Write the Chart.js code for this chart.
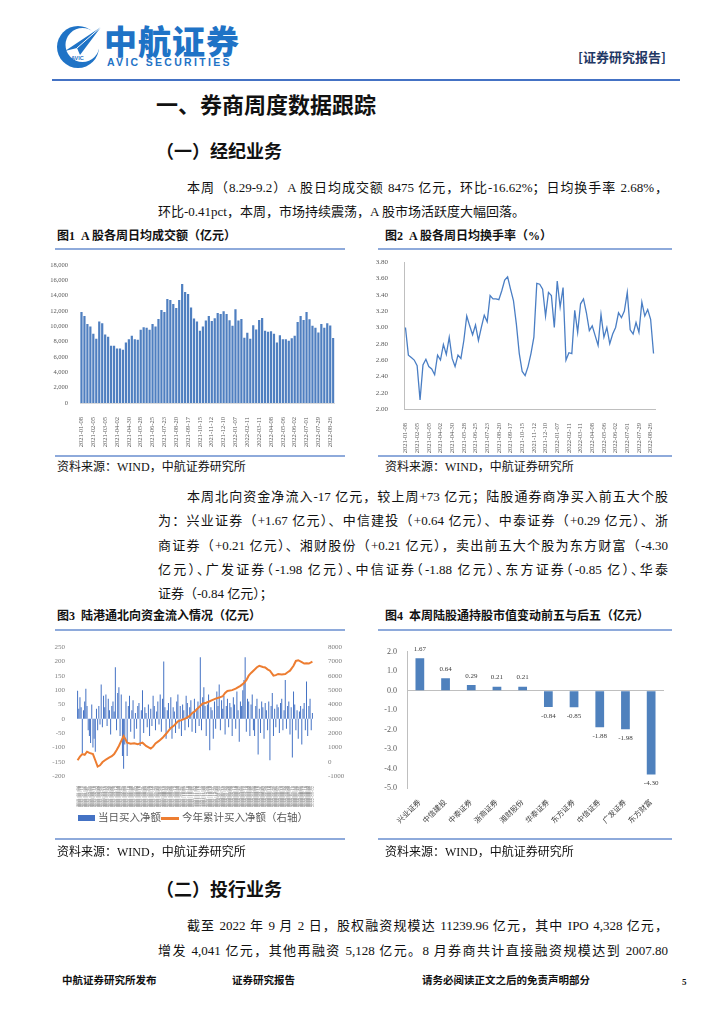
<!DOCTYPE html>
<html>
<head>
<meta charset="utf-8">
<script src="https://cdn.jsdelivr.net/npm/chart.js@4.4.1/dist/chart.umd.min.js"></script>
<style>
  html, body { margin: 0; padding: 0; background: #fff; }
  #page { position: relative; width: 724px; height: 1024px; overflow: hidden; background: #fff;
    font-family: "Liberation Serif", "Noto Sans CJK SC", serif; color: #111; }
  .abs { position: absolute; white-space: nowrap; }
  .ln { position: absolute; left: 158px; width: 510px; height: 20px; line-height: 20px; font-size: 13px;
    white-space: nowrap; text-align: justify; text-align-last: justify; }
  .ln.first { left: 187px; width: 481px; }
  .ln.last { text-align-last: left; }
  .ln.tight { font-feature-settings: "halt"; }
  .h1 { font-family: "Noto Sans CJK SC"; font-weight: 700; font-size: 22px; line-height: 26px; }
  .h2 { font-family: "Noto Sans CJK SC"; font-weight: 700; font-size: 18px; line-height: 22px; }
  .figt { font-weight: 700; font-size: 12px; line-height: 16px; }
  .src { font-size: 12px; line-height: 16px; }
  .rule { position: absolute; height: 1.5px; background: #8eaadb; }
  canvas { position: absolute; }
  .foot { font-weight: 700; font-size: 10.5px; line-height: 14px; font-family: "Noto Sans CJK SC"; }
</style>
</head>
<body>
<div id="page">
  <!-- header -->
  <svg class="abs" style="left:56px;top:22px" width="48" height="48" viewBox="0 0 48 48">
    <circle cx="22" cy="25" r="21" fill="#1f73c6"/>
    <circle cx="26.5" cy="23" r="17" fill="#fff"/>
    <path d="M9 29 L45 5 L24 33 L21 26 Z" fill="#1f73c6"/>
    <path d="M21 26 L45 5" stroke="#fff" stroke-width="1"/>
    <text x="15" y="38" font-size="5.5" font-family="Liberation Sans" font-weight="bold" fill="#1f73c6">AVIC</text>
  </svg>
  <div class="abs" style="left:104px;top:20px;font-family:'Noto Sans CJK SC';font-weight:900;font-size:33px;line-height:40px;color:#1f73c6;letter-spacing:1px">中航证券</div>
  <div class="abs" style="left:107px;top:56px;font-family:'Liberation Sans';font-weight:700;font-size:10.5px;line-height:12px;color:#1f73c6;letter-spacing:2.3px">AVIC SECURITIES</div>
  <div class="abs" style="left:578px;top:49px;font-family:'Noto Sans CJK SC';font-weight:700;font-size:13px;line-height:16px;color:#1f3864">[证券研究报告]</div>
  <div class="abs" style="left:52px;top:79px;width:628px;height:2px;background:#4472c4"></div>

  <div class="abs h1" style="left:156px;top:90px">一、券商周度数据跟踪</div>
  <div class="abs h2" style="left:156px;top:139px">（一）经纪业务</div>

  <div class="ln first" style="top:178px">本周（8.29-9.2）A 股日均成交额 8475 亿元，环比-16.62%；日均换手率 2.68%，</div>
  <div class="ln last" style="top:202px">环比-0.41pct，本周，市场持续震荡，A 股市场活跃度大幅回落。</div>

  <!-- figure 1 / 2 -->
  <div class="abs figt" style="left:57px;top:228px">图1&nbsp; A 股各周日均成交额（亿元）</div>
  <div class="abs figt" style="left:385px;top:228px">图2&nbsp; A 股各周日均换手率（%）</div>
  <div class="rule" style="left:55px;top:248px;width:290px"></div>
  <div class="rule" style="left:378px;top:248px;width:294px"></div>
  <canvas id="c1" width="302" height="195" style="left:45px;top:255px"></canvas>
  <canvas id="c2" width="300" height="205" style="left:368px;top:250px"></canvas>
  <div class="rule" style="left:55px;top:455px;width:290px"></div>
  <div class="rule" style="left:378px;top:455px;width:294px"></div>
  <div class="abs src" style="left:57px;top:459px">资料来源：WIND，中航证券研究所</div>
  <div class="abs src" style="left:385px;top:459px">资料来源：WIND，中航证券研究所</div>

  <div class="ln first" style="top:487px">本周北向资金净流入-17 亿元，较上周+73 亿元；陆股通券商净买入前五大个股</div>
  <div class="ln" style="top:511px">为：兴业证券（+1.67 亿元）、中信建投（+0.64 亿元）、中泰证券（+0.29 亿元）、浙</div>
  <div class="ln" style="top:536px">商证券（+0.21 亿元）、湘财股份（+0.21 亿元），卖出前五大个股为东方财富（-4.30</div>
  <div class="ln tight" style="top:560px">亿元）、广发证券（-1.98 亿元）、中信证券（-1.88 亿元）、东方证券（-0.85 亿）、华泰</div>
  <div class="ln last" style="top:584px">证券（-0.84 亿元）；</div>

  <!-- figure 3 / 4 -->
  <div class="abs figt" style="left:57px;top:608px">图3&nbsp; 陆港通北向资金流入情况（亿元）</div>
  <div class="abs figt" style="left:385px;top:608px">图4&nbsp; 本周陆股通持股市值变动前五与后五（亿元）</div>
  <div class="rule" style="left:55px;top:629px;width:290px"></div>
  <div class="rule" style="left:378px;top:629px;width:294px"></div>
  <canvas id="c3" width="305" height="175" style="left:45px;top:636px"></canvas>
  <canvas id="c4" width="292" height="200" style="left:375px;top:637px"></canvas>
  <div class="abs" style="left:78px;top:815px;width:17px;height:6px;background:#4472c4"></div>
  <div class="abs" style="left:98px;top:810px;font-size:10.5px;line-height:16px;color:#595959">当日买入净额</div>
  <div class="abs" style="left:161px;top:817px;width:18px;height:2.5px;background:#ed7d31"></div>
  <div class="abs" style="left:182px;top:810px;font-size:10.5px;line-height:16px;color:#595959">今年累计买入净额（右轴）</div>
  <div class="rule" style="left:55px;top:838px;width:290px"></div>
  <div class="rule" style="left:378px;top:838px;width:294px"></div>
  <div class="abs src" style="left:57px;top:844px">资料来源：WIND，中航证券研究所</div>
  <div class="abs src" style="left:385px;top:844px">资料来源：WIND，中航证券研究所</div>

  <div class="abs h2" style="left:156px;top:877px">（二）投行业务</div>
  <div class="ln first" style="top:916px">截至 2022 年 9 月 2 日，股权融资规模达 11239.96 亿元，其中 IPO 4,328 亿元，</div>
  <div class="ln" style="top:941px">增发 4,041 亿元，其他再融资 5,128 亿元。8 月券商共计直接融资规模达到 2007.80</div>

  <!-- footer -->
  <div class="abs foot" style="left:62px;top:973px">中航证券研究所发布</div>
  <div class="abs foot" style="left:232px;top:973px">证券研究报告</div>
  <div class="abs foot" style="left:422px;top:973px">请务必阅读正文之后的免责声明部分</div>
  <div class="abs" style="left:682px;top:976px;font-weight:700;font-size:9px;line-height:12px">5</div>
</div>

<script>
// ---- weekly categories (fig 1 & 2) ----
const weekLabels = [
  '2021-01-08','2021-01-15','2021-01-22','2021-01-29','2021-02-05','2021-02-10','2021-02-19','2021-02-26',
  '2021-03-05','2021-03-12','2021-03-19','2021-03-26','2021-04-02','2021-04-09','2021-04-16','2021-04-23',
  '2021-04-30','2021-05-07','2021-05-14','2021-05-21','2021-05-28','2021-06-04','2021-06-11','2021-06-18',
  '2021-06-25','2021-07-02','2021-07-09','2021-07-16','2021-07-23','2021-07-30','2021-08-06','2021-08-13',
  '2021-08-20','2021-08-27','2021-09-03','2021-09-10','2021-09-17','2021-09-24','2021-09-30','2021-10-08',
  '2021-10-15','2021-10-22','2021-10-29','2021-11-05','2021-11-12','2021-11-19','2021-11-26','2021-12-03',
  '2021-12-10','2021-12-17','2021-12-24','2021-12-31','2022-01-07','2022-01-14','2022-01-21','2022-01-28',
  '2022-02-11','2022-02-18','2022-02-25','2022-03-04','2022-03-11','2022-03-18','2022-03-25','2022-04-01',
  '2022-04-08','2022-04-15','2022-04-22','2022-04-29','2022-05-06','2022-05-13','2022-05-20','2022-05-27',
  '2022-06-02','2022-06-10','2022-06-17','2022-06-24','2022-07-01','2022-07-08','2022-07-15','2022-07-22',
  '2022-07-29','2022-08-05','2022-08-12','2022-08-19','2022-08-26','2022-09-02'
];
// fig 1: weekly avg turnover (亿元)
const weeklyAmount = [
  11880,11360,10320,9970,9020,8370,10620,10410,8930,8630,
  7460,7460,7110,7110,6940,7890,8330,8760,8330,8240,
  9540,9890,9800,9540,10320,9970,10970,12140,11880,13570,
  13440,12920,12400,13440,15520,14480,14220,12450,11010,10620,
  9410,9970,10750,11360,10710,11060,11750,11620,11970,11620,
  10800,10060,12230,10750,10970,8500,9150,8370,10150,9580,
  10840,11100,9410,9280,9370,9020,7890,8850,8330,8330,
  8110,8460,8760,10580,11360,10840,11880,10930,10060,9800,
  9190,10320,9800,10410,10100,8475
];
// fig 2: weekly avg turnover rate (%)
const weeklyRate = [
  3.00,2.66,2.63,2.60,2.53,2.11,2.54,2.61,2.52,2.49,
  2.42,2.66,2.60,2.79,2.67,2.88,2.62,2.52,2.66,2.62,
  2.84,3.14,3.02,2.91,3.03,2.84,3.00,3.15,3.07,3.39,
  3.35,3.35,3.34,3.45,3.58,3.62,3.47,3.33,3.04,2.68,
  2.46,2.41,2.52,2.68,2.88,3.54,3.53,3.47,3.14,3.43,
  3.39,3.00,3.57,3.25,3.49,2.60,2.69,2.68,3.21,2.94,
  3.29,3.35,3.18,2.96,3.02,2.90,2.78,3.16,2.88,3.00,
  2.80,2.92,3.00,3.18,3.12,3.20,3.43,2.97,2.92,3.06,
  2.94,3.31,3.14,3.22,3.10,2.68
];
const amountTicks = [0, 18000, 2000];
const rateTicks = [2.0, 3.8, 0.2];

// ---- fig 3: northbound flows ----
const flowStart = '2021-01-04';
const flowEnd = '2022-09-02';
const dailyFlow = [
  98,35,75,40,-120,30,60,105,45,-40,
  -60,-85,50,-100,-70,-115,35,-40,45,-20,
  120,-30,80,40,85,-25,70,30,-55,45,
  60,25,180,-40,90,110,-60,85,-130,-175,
  -90,60,-130,45,80,-45,30,65,-70,20,
  -35,45,55,-95,30,100,-50,40,20,-30,
  50,-60,35,-25,80,45,-40,25,60,-20,
  85,-45,70,200,40,-70,30,55,-35,75,
  -70,40,25,-50,60,85,-35,45,-60,50,
  30,-40,80,55,-30,40,65,-45,25,70,
  -50,35,60,-25,215,-40,75,110,45,-60,
  50,85,-110,40,30,-70,60,-35,95,45,
  120,-40,65,35,80,-55,45,70,-30,55,
  40,-60,75,50,-35,95,30,-80,60,45,
  100,135,215,-45,70,60,-60,50,85,-40,
  -60,45,70,-125,35,-50,60,40,-70,55,
  30,-40,60,-145,45,90,-60,35,-30,50,
  40,-50,55,70,-40,30,135,-35,45,60,
  -55,40,-135,95,50,-40,30,-70,25,45,
  -90,35,55,-40,130,-60,45,70,-40,20
];
const cumIdx = [0,2,4,6,8,10,13,15,17,19,21,24,27,29,31,33,35,37,39,41,
  42,45,48,51,55,58,62,64,66,69,72,75,79,82,85,88,92,95,97,99,
  101,104,106,109,111,114,117,120,123,125,127,131,134,138,141,143,145,147,149,152,
  154,157,159,161,163,166,168,170,173,176,178,180,183,185,187,190,192,194,196,199];
const cumFlow = [100,350,530,480,700,620,530,100,-340,-250,-40,150,300,380,530,800,1100,1450,1790,1500,
  1330,1250,1280,1220,1330,1100,920,1050,1280,1450,1670,1950,2360,2550,2820,2900,3040,3200,3390,3500,
  3660,3900,4070,4120,4190,4300,4410,4480,4570,4800,4940,5000,5100,5300,5490,5700,6010,6200,6360,6600,
  6700,6620,6580,6450,6360,6010,6050,6130,6100,6130,6250,6360,6700,7040,7090,6950,6860,6880,6860,7000];
const flowTicksLeft = [-200, 250, 50];
const flowTicksRight = [-1000, 8000, 1000];

// ---- fig 4: holding change ----
const stockNames = ['兴业证券','中信建投','中泰证券','浙商证券','湘财股份','华泰证券','东方证券','中信证券','广发证券','东方财富'];
const holdChange = [1.67, 0.64, 0.29, 0.21, 0.21, -0.84, -0.85, -1.88, -1.98, -4.30];
const holdTicks = [-5, 2, 1];

const FONT = '"Liberation Serif", "Noto Sans CJK SC", serif';
Chart.defaults.font.family = FONT;
Chart.defaults.animation = false;

function tradingDays(a, b) {
  const out = [];
  const d = new Date(a + 'T00:00:00Z');
  const e = new Date(b + 'T00:00:00Z');
  while (d <= e) {
    const w = d.getUTCDay();
    if (w > 0 && w < 6) out.push(d.toISOString().slice(0, 10));
    d.setUTCDate(d.getUTCDate() + 1);
  }
  return out;
}
const allDays = tradingDays(flowStart, flowEnd);
const flowLabels = dailyFlow.map((_, i) => allDays[Math.round(i * (allDays.length - 1) / (dailyFlow.length - 1))]);

const noPlugins = { legend: { display: false }, tooltip: { enabled: false } };
const dateTicks = (size) => ({
  autoSkip: false, minRotation: 90, maxRotation: 90, padding: 6,
  font: { size }, color: '#595959',
  callback: (v, i) => (i % 4 === 0 ? weekLabels[i] : '')
});

// Fig 1
new Chart(document.getElementById('c1'), {
  type: 'bar',
  data: { labels: weekLabels, datasets: [{ data: weeklyAmount, backgroundColor: '#4f7fc0', barPercentage: 0.75, categoryPercentage: 1 }] },
  options: {
    responsive: false,
    layout: { padding: { top: 10, right: 2 } },
    plugins: noPlugins,
    scales: {
      x: { grid: { display: false }, border: { display: true, color: '#d9d9d9' }, ticks: dateTicks(6.5),
           afterFit: (s) => { s.height = 47; } },
      y: { min: amountTicks[0], max: amountTicks[1], grid: { display: false }, border: { display: false },
           ticks: { stepSize: amountTicks[2], font: { size: 6.5 }, color: '#595959', padding: 4,
                    callback: (v) => v.toLocaleString('en-US') },
           afterFit: (s) => { s.width = 35; } }
    }
  }
});

// Fig 2
new Chart(document.getElementById('c2'), {
  type: 'line',
  data: { labels: weekLabels, datasets: [{ data: weeklyRate, borderColor: '#4a7ec4', borderWidth: 1.3, pointRadius: 0, tension: 0 }] },
  options: {
    responsive: false,
    layout: { padding: { top: 7, right: 13 } },
    plugins: noPlugins,
    scales: {
      x: { offset: true, grid: { display: false }, border: { display: true, color: '#bfbfbf' }, ticks: dateTicks(6.5),
           afterFit: (s) => { s.height = 46; } },
      y: { min: rateTicks[0], max: rateTicks[1], grid: { display: false }, border: { display: true, color: '#bfbfbf' },
           ticks: { stepSize: rateTicks[2], font: { size: 7 }, color: '#595959', padding: 8,
                    callback: (v) => v.toFixed(2) },
           afterFit: (s) => { s.width = 36; } }
    }
  }
});

// Fig 3
new Chart(document.getElementById('c3'), {
  data: {
    labels: flowLabels,
    datasets: [
      { type: 'bar', data: dailyFlow, backgroundColor: '#4472c4', barPercentage: 0.85, categoryPercentage: 1, yAxisID: 'y', order: 2 },
      { type: 'line', data: cumIdx.map((i, k) => ({ x: flowLabels[i], y: cumFlow[k] })), borderColor: '#ed7d31', borderWidth: 2,
        pointRadius: 0, tension: 0, yAxisID: 'y1', order: 1 }
    ]
  },
  options: {
    responsive: false,
    layout: { padding: { top: 8 } },
    plugins: noPlugins,
    scales: {
      x: { grid: { display: false }, border: { display: false },
           ticks: { autoSkip: false, minRotation: 90, maxRotation: 90, padding: 2, font: { size: 4.5 }, color: '#8c8c8c' },
           afterFit: (s) => { s.height = 35; } },
      y: { position: 'left', min: flowTicksLeft[0], max: flowTicksLeft[1], grid: { display: false }, border: { display: false },
           ticks: { stepSize: flowTicksLeft[2], font: { size: 7 }, color: '#7f7f7f', padding: 4, callback: (v) => String(v) },
           afterFit: (s) => { s.width = 32; } },
      y1: { position: 'right', min: flowTicksRight[0], max: flowTicksRight[1], grid: { display: false }, border: { display: false },
            ticks: { stepSize: flowTicksRight[2], font: { size: 7 }, color: '#7f7f7f', padding: 7, callback: (v) => String(v) },
            afterFit: (s) => { s.width = 37; } }
    }
  }
});

// Fig 4
const barLabels = {
  id: 'barLabels',
  afterDatasetsDraw(chart) {
    const { ctx } = chart;
    const meta = chart.getDatasetMeta(0);
    ctx.save();
    ctx.font = '7px ' + FONT;
    ctx.fillStyle = '#404040';
    ctx.textAlign = 'center';
    ctx.textBaseline = 'middle';
    meta.data.forEach((bar, i) => {
      const v = holdChange[i];
      ctx.fillText(v.toFixed(2), bar.x, v >= 0 ? bar.y - 9 : bar.y + 9);
    });
    ctx.restore();
  }
};
new Chart(document.getElementById('c4'), {
  type: 'bar',
  data: { labels: stockNames, datasets: [{ data: holdChange, backgroundColor: '#4f81bd', barPercentage: 0.34, categoryPercentage: 1 }] },
  options: {
    responsive: false,
    layout: { padding: { top: 10, right: 3 } },
    plugins: noPlugins,
    scales: {
      x: { grid: { display: false }, border: { display: false },
           ticks: { autoSkip: false, minRotation: 45, maxRotation: 45, padding: 2, font: { size: 7.5 }, color: '#404040' },
           afterFit: (s) => { s.height = 49; } },
      y: { min: holdTicks[0], max: holdTicks[1],
           grid: { drawTicks: false, color: (c) => (c.tick && c.tick.value === 0 ? '#bfbfbf' : 'rgba(0,0,0,0)') },
           border: { display: true, color: '#bfbfbf' },
           ticks: { stepSize: holdTicks[2], font: { size: 8 }, color: '#595959', padding: 10, callback: (v) => v.toFixed(1) },
           afterFit: (s) => { s.width = 32; } }
    }
  },
  plugins: [barLabels]
});
</script>
</body>
</html>
